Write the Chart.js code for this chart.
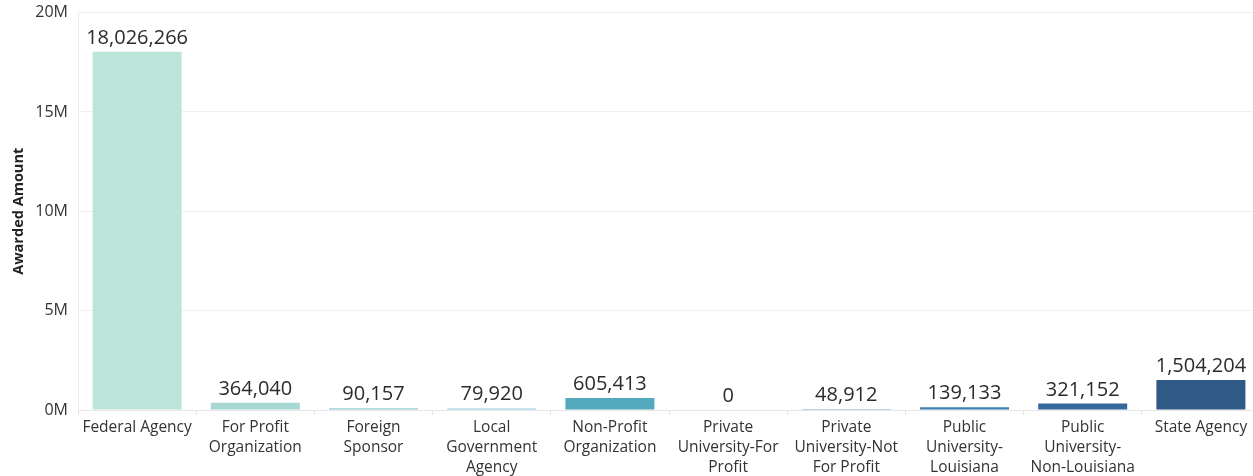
<!DOCTYPE html>
<html>
<head>
<meta charset="utf-8">
<script src="https://cdn.jsdelivr.net/npm/chart.js@4"></script>
<style>
  html, body { margin: 0; padding: 0; background: #fff; overflow: hidden; }
  #wrap { position: relative; width: 1253px; height: 476px; overflow: hidden; }
  #myChart { position: absolute; left: 0; top: -7px; }
</style>
</head>
<body>
<div id="wrap"><canvas id="myChart" width="1260" height="483"></canvas></div>
<script>
// sponsor types (multi-line labels as shown under the bars)
const categories = [
  ['Federal Agency'],
  ['For Profit', 'Organization'],
  ['Foreign', 'Sponsor'],
  ['Local', 'Government', 'Agency'],
  ['Non-Profit', 'Organization'],
  ['Private', 'University-For', 'Profit'],
  ['Private', 'University-Not', 'For Profit'],
  ['Public', 'University-', 'Louisiana'],
  ['Public', 'University-', 'Non-Louisiana'],
  ['State Agency']
];
const awarded = [18026266, 364040, 90157, 79920, 605413, 0, 48912, 139133, 321152, 1504204];
const barColors = ['#bde4d9', '#a6d7d2', '#8fcdd2', '#8fcbd9', '#53a9be', '#5aa5c6', '#72b2cf', '#3c7fae', '#346a9b', '#2f5987'];
const yTicks = [0, 5000000, 10000000, 15000000, 20000000];

const FONT = '"Open Sans", "DejaVu Sans", sans-serif';

// value labels above each bar
const valueLabels = {
  id: 'valueLabels',
  afterDatasetsDraw(chart) {
    const ctx = chart.ctx;
    const meta = chart.getDatasetMeta(0);
    ctx.save();
    ctx.font = '20px ' + FONT;
    ctx.fillStyle = '#2b2b2b';
    ctx.textAlign = 'center';
    ctx.textBaseline = 'alphabetic';
    meta.data.forEach((bar, i) => {
      ctx.fillText(awarded[i].toLocaleString('en-US'), bar.x, bar.y - 8);
    });
    ctx.restore();
  }
};

const ctx = document.getElementById('myChart').getContext('2d');
new Chart(ctx, {
  type: 'bar',
  data: {
    labels: categories,
    datasets: [{
      label: 'Awarded Amount',
      data: awarded,
      backgroundColor: barColors,
      barPercentage: 0.753,
      categoryPercentage: 1.0
    }]
  },
  options: {
    responsive: false,
    animation: false,
    layout: { padding: { top: 4, right: 0, left: 0, bottom: 0 } },
    plugins: {
      legend: { display: false },
      tooltip: { enabled: false }
    },
    scales: {
      x: {
        grid: { drawOnChartArea: false, color: '#e6e6e6', tickLength: 5 },
        border: { display: true, color: '#e6e6e6' },
        ticks: {
          autoSkip: false,
          maxRotation: 0,
          color: '#333',
          padding: 3,
          font: { family: FONT, size: 15.5, lineHeight: 1.29 }
        },
        afterFit(scale) { scale.height = 66; }
      },
      y: {
        min: 0,
        max: 20000000,
        afterBuildTicks(scale) { scale.ticks = yTicks.map(v => ({ value: v })); },
        grid: { color: '#f0f0f0', drawTicks: false },
        border: { display: true, color: '#ececec' },
        ticks: {
          color: '#333',
          padding: 10,
          font: { family: FONT, size: 16 },
          callback: v => (v / 1000000) + 'M'
        },
        title: {
          display: true,
          text: 'Awarded Amount',
          color: '#222',
          padding: { top: 10, bottom: 0 },
          font: { family: FONT, size: 14.5, weight: 'bold' }
        },
        afterFit(scale) { scale.width = 78; }
      }
    }
  },
  plugins: [valueLabels]
});
</script>
</body>
</html>
